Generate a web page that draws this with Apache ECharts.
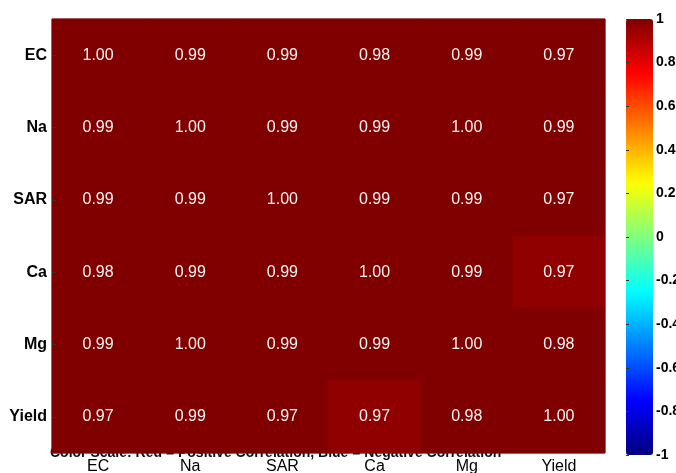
<!DOCTYPE html>
<html><head><meta charset="utf-8">
<script src="https://cdn.jsdelivr.net/npm/echarts@6/dist/echarts.min.js"></script>
<style>html,body{margin:0;padding:0;background:#fff}#c{width:676px;height:473px}</style>
</head><body><div id="c"></div>
<script>
// ---- data ----
const variables = ['EC', 'Na', 'SAR', 'Ca', 'Mg', 'Yield'];
const rowEC    = [1.00, 0.99, 0.99, 0.98, 0.99, 0.97];
const rowNa    = [0.99, 1.00, 0.99, 0.99, 1.00, 0.99];
const rowSAR   = [0.99, 0.99, 1.00, 0.99, 0.99, 0.97];
const rowCa    = [0.98, 0.99, 0.99, 1.00, 0.99, 0.966];
const rowMg    = [0.99, 1.00, 0.99, 0.99, 1.00, 0.98];
const rowYield = [0.97, 0.99, 0.97, 0.966, 0.98, 1.00];
const colorbarTicks = [-1, -0.8, -0.6, -0.4, -0.2, 0, 0.2, 0.4, 0.6, 0.8, 1];
const titleText = 'Color Scale: Red = Positive Correlation, Blue = Negative Correlation';

const rows = [rowEC, rowNa, rowSAR, rowCa, rowMg, rowYield];
const cells = [];
rows.forEach((r, yi) => r.forEach((v, xi) => cells.push([xi, yi, v])));

// MATLAB-like jet(64) colormap
function jet(t) {
  const c = x => Math.max(0, Math.min(1, x));
  const r = c(1.5 - Math.abs(4 * t - 3)), g = c(1.5 - Math.abs(4 * t - 2)), b = c(1.5 - Math.abs(4 * t - 1));
  const h = x => Math.round(x * 255).toString(16).padStart(2, '0');
  return '#' + h(r) + h(g) + h(b);
}
const N = 64, vmin = -1, vmax = 1;
const jetColors = [], pieces = [];
for (let i = 0; i < N; i++) {
  const col = jet(i / (N - 1));
  jetColors.push(col);
  const lo = vmin + i * (vmax - vmin) / N, hi = vmin + (i + 1) * (vmax - vmin) / N;
  const p = { color: col };
  if (i > 0) p.gte = lo;
  if (i < N - 1) p.lt = hi;
  pieces.push(p);
}

const FONT = '"Liberation Sans", Arial, sans-serif';
const chart = echarts.init(document.getElementById('c'), null, { renderer: 'canvas' });
chart.setOption({
  animation: false,
  backgroundColor: '#ffffff',
  title: {
    text: titleText, left: 50, top: 446, padding: 0, z: 0,
    textStyle: { fontSize: 14, fontWeight: 'bold', color: '#111', fontFamily: FONT }
  },
  grid: [
    { left: 52, top: 19, width: 553, height: 434, show: true, backgroundColor: '#800000',
      borderColor: '#6a0000', borderWidth: 1, z: 1, outerBoundsMode: 'none', containLabel: false },
    { left: 626, top: 19, width: 27, height: 436, outerBoundsMode: 'none', containLabel: false }
  ],
  xAxis: [
    { type: 'category', data: variables, gridIndex: 0, position: 'bottom',
      axisLine: { show: false }, axisTick: { show: false }, splitLine: { show: false },
      axisLabel: { margin: 6, fontSize: 16, color: '#000', fontFamily: FONT } },
    { type: 'value', gridIndex: 1, show: false, min: 0, max: 1 }
  ],
  yAxis: [
    { type: 'category', data: variables, gridIndex: 0, inverse: true, z: 5,
      axisLine: { show: false },
      axisTick: { show: true, inside: true, alignWithLabel: true, length: 4, lineStyle: { color: '#333' } },
      splitLine: { show: false },
      axisLabel: { margin: 5, fontSize: 16, fontWeight: 'bold', color: '#000', fontFamily: FONT } },
    { type: 'value', gridIndex: 1, min: -1, max: 1, interval: 0.2, position: 'right', z: 5,
      axisLine: { show: false }, splitLine: { show: false },
      axisTick: { show: false },
      axisLabel: { margin: 3, fontSize: 14, fontWeight: 'bold', color: '#000', fontFamily: FONT,
        formatter: v => { const t = colorbarTicks.find(x => Math.abs(x - v) < 1e-6); return t === undefined ? '' : String(t); } } },
    { type: 'value', gridIndex: 1, min: -1, max: 1, interval: 0.2, position: 'left', z: 5,
      axisLine: { show: false }, splitLine: { show: false },
      axisTick: { show: true, inside: true, length: 3, lineStyle: { color: '#333' } },
      axisLabel: { show: false } }
  ],
  visualMap: [
    { type: 'piecewise', show: false, seriesIndex: 0, dimension: 2, pieces: pieces },
    { type: 'continuous', show: true, seriesIndex: 1, min: -1, max: 1, calculable: false,
      left: 626, top: 19, padding: 0, itemWidth: 27, itemHeight: 436, text: ['', ''],
      showLabel: false, inRange: { color: jetColors }, z: 1 }
  ],
  series: [
    { type: 'heatmap', xAxisIndex: 0, yAxisIndex: 0, data: cells, z: 2,
      label: { show: true, color: '#f2f2f2', fontSize: 16, fontFamily: FONT,
        formatter: p => p.data[2].toFixed(2) },
      itemStyle: { borderWidth: 0 }, emphasis: { disabled: true } },
    { type: 'scatter', xAxisIndex: 1, yAxisIndex: 1, data: [], silent: true }
  ]
});
</script></body></html>
